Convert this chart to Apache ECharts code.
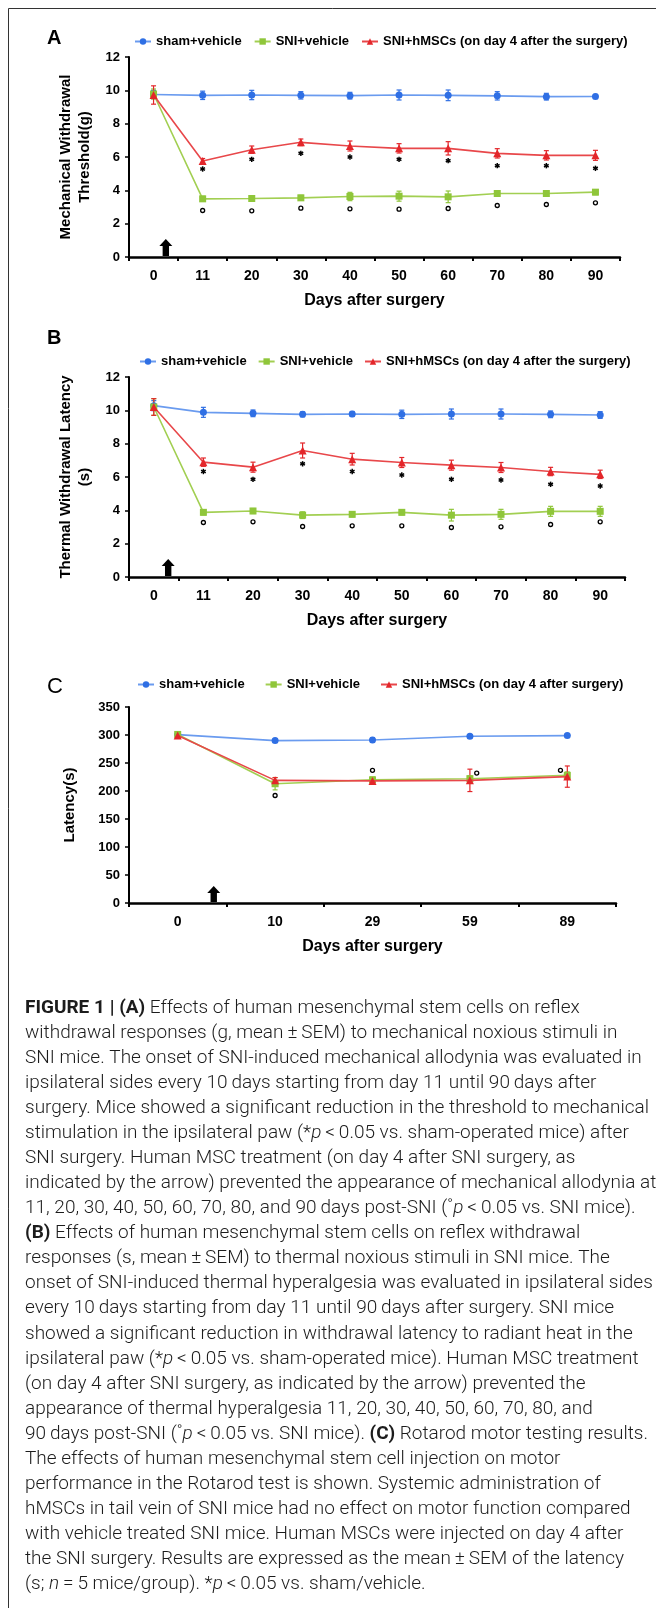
<!DOCTYPE html>
<html><head><meta charset="utf-8">
<script src="https://cdn.jsdelivr.net/npm/echarts@6/dist/echarts.min.js"></script>
<style>html,body{margin:0;padding:0;background:#fff}#c{width:656px;height:1608px}</style>
</head><body><div id="c"></div>
<script>
// ---------- data ----------
const seriesNamesAB = ['sham+vehicle', 'SNI+vehicle', 'SNI+hMSCs (on day 4 after the surgery)'];
const seriesNamesC = ['sham+vehicle', 'SNI+vehicle', 'SNI+hMSCs (on day 4 after surgery)'];
const daysAB = ['0', '11', '20', '30', '40', '50', '60', '70', '80', '90'];
const daysC = ['0', '10', '29', '59', '89'];

// Panel A: mechanical withdrawal threshold (g)
const mechSham = [9.75, 9.7, 9.72, 9.7, 9.68, 9.72, 9.7, 9.67, 9.62, 9.63];
const mechShamErr = [0.25, 0.25, 0.28, 0.22, 0.2, 0.3, 0.32, 0.25, 0.2, 0.12];
const mechSni = [9.78, 3.49, 3.51, 3.55, 3.63, 3.65, 3.61, 3.81, 3.81, 3.89];
const mechSniErr = [0.3, 0.15, 0.12, 0.15, 0.25, 0.3, 0.35, 0.15, 0.15, 0.15];
const mechHm = [9.72, 5.76, 6.44, 6.88, 6.66, 6.52, 6.52, 6.22, 6.1, 6.1];
const mechHmErr = [0.55, 0.15, 0.22, 0.2, 0.3, 0.28, 0.4, 0.28, 0.28, 0.3];
const mechStar = [null, 5.28, 5.86, 6.22, 6.0, 5.86, 5.78, 5.48, 5.48, 5.32];
const mechCirc = [null, 2.79, 2.77, 2.93, 2.89, 2.87, 2.91, 3.09, 3.15, 3.25];

// Panel B: thermal withdrawal latency (s)
const thermSham = [10.28, 9.88, 9.82, 9.76, 9.78, 9.76, 9.78, 9.78, 9.76, 9.72];
const thermShamErr = [0.3, 0.3, 0.2, 0.15, 0.15, 0.25, 0.3, 0.3, 0.2, 0.2];
const thermSni = [10.2, 3.88, 3.96, 3.71, 3.76, 3.88, 3.71, 3.76, 3.94, 3.94];
const thermSniErr = [0.5, 0.15, 0.15, 0.2, 0.15, 0.15, 0.35, 0.3, 0.3, 0.3];
const thermHm = [10.2, 6.89, 6.59, 7.59, 7.07, 6.87, 6.71, 6.57, 6.33, 6.16];
const thermHmErr = [0.5, 0.25, 0.3, 0.45, 0.35, 0.3, 0.3, 0.3, 0.25, 0.25];
const thermStar = [null, 6.33, 5.86, 6.79, 6.33, 6.12, 5.86, 5.82, 5.56, 5.46];
const thermCirc = [null, 3.27, 3.31, 3.03, 3.07, 3.07, 2.97, 3.01, 3.15, 3.31];

// Panel C: rotarod latency (s)
const rotSham = [300.7, 290, 291, 297.7, 298.9];
const rotShamErr = [3, 3, 4, 3, 3];
const rotSni = [301, 213, 220, 222, 228];
const rotSniErr = [3, 11, 5, 5, 6];
const rotHm = [299, 219, 218, 219, 225.7];
const rotHmErr = [3, 5, 5, 20, 19];
const rotCirc = [null, 192, 237, 232, 237];
const rotCircShift = [0, 0, 0, 0.07, -0.07];

const yTicksAB = {min: 0, max: 12, interval: 2};
const yTicksC = {min: 0, max: 350, interval: 50};

const captionLines = [
  '{b|FIGURE 1 | (A)} Effects of human mesenchymal stem cells on reflex',
  'withdrawal responses (g, mean\u2009±\u2009SEM) to mechanical noxious stimuli in',
  'SNI mice. The onset of SNI-induced mechanical allodynia was evaluated in',
  'ipsilateral sides every 10\u2009days starting from day 11 until 90\u2009days after',
  'surgery. Mice showed a significant reduction in the threshold to mechanical',
  'stimulation in the ipsilateral paw (*{i|p}\u2009<\u20090.05 vs. sham-operated mice) after',
  'SNI surgery. Human MSC treatment (on day 4 after SNI surgery, as',
  'indicated by the arrow) prevented the appearance of mechanical allodynia at',
  '11, 20, 30, 40, 50, 60, 70, 80, and 90\u2009days post-SNI (\u02da{i|p}\u2009<\u20090.05 vs. SNI mice).',
  '{b|(B)} Effects of human mesenchymal stem cells on reflex withdrawal',
  'responses (s, mean\u2009±\u2009SEM) to thermal noxious stimuli in SNI mice. The',
  'onset of SNI-induced thermal hyperalgesia was evaluated in ipsilateral sides',
  'every 10\u2009days starting from day 11 until 90\u2009days after surgery. SNI mice',
  'showed a significant reduction in withdrawal latency to radiant heat in the',
  'ipsilateral paw (*{i|p}\u2009<\u20090.05 vs. sham-operated mice). Human MSC treatment',
  '(on day 4 after SNI surgery, as indicated by the arrow) prevented the',
  'appearance of thermal hyperalgesia 11, 20, 30, 40, 50, 60, 70, 80, and',
  '90\u2009days post-SNI (\u02da{i|p}\u2009<\u20090.05 vs. SNI mice). {b|(C)} Rotarod motor testing results.',
  'The effects of human mesenchymal stem cell injection on motor',
  'performance in the Rotarod test is shown. Systemic administration of',
  'hMSCs in tail vein of SNI mice had no effect on motor function compared',
  'with vehicle treated SNI mice. Human MSCs were injected on day 4 after',
  'the SNI surgery. Results are expressed as the mean\u2009±\u2009SEM of the latency',
  '(s; {i|n}\u2009=\u20095 mice/group). *{i|p}\u2009<\u20090.05 vs. sham/vehicle.'
];

// ---------- styling / layout ----------
const FONT = '"Liberation Sans", Arial, sans-serif';
const CAP_FONT = 'Roboto, "Liberation Sans", sans-serif';
const C = {blue: '#2f6fe4', blueLine: '#6a9bef', green: '#8fc63a', greenLine: '#a2cf52', red: '#e3262a', redLine: '#e8474a'};
const grids = [
  {left: 129, top: 57, width: 491, height: 200},
  {left: 129, top: 377, width: 496, height: 200},
  {left: 129, top: 707, width: 487, height: 196}
];

function xAxis(gi, cats) {
  return {type: 'category', gridIndex: gi, data: cats, boundaryGap: true,
    name: 'Days after surgery', nameLocation: 'middle', nameGap: 36,
    nameTextStyle: {fontFamily: FONT, fontWeight: 'bold', fontSize: 16, color: '#000'},
    axisLine: {lineStyle: {color: '#000', width: 2.5}},
    axisTick: {show: true, length: 4, lineStyle: {color: '#000', width: 2}},
    axisLabel: {fontFamily: FONT, fontWeight: 'bold', fontSize: 14, color: '#000', margin: 12},
    splitLine: {show: false}};
}
function yAxis(gi, t, name, gap) {
  return {type: 'value', gridIndex: gi, min: t.min, max: t.max, interval: t.interval,
    name: name, nameLocation: 'middle', nameGap: gap,
    nameTextStyle: {fontFamily: FONT, fontWeight: 'bold', fontSize: 15, color: '#000', lineHeight: 19},
    axisLine: {show: true, lineStyle: {color: '#000', width: 2}},
    axisTick: {show: true, length: 4, lineStyle: {color: '#000', width: 1.5}},
    axisLabel: {fontFamily: FONT, fontWeight: 'bold', fontSize: 13, color: '#000', margin: 9},
    splitLine: {show: false}};
}
function lineS(name, gi, data, color, lineColor, symbol, size, z) {
  return {type: 'line', name: name, xAxisIndex: gi, yAxisIndex: gi, data: data,
    symbol: symbol, symbolSize: size, showSymbol: true, z: z,
    itemStyle: {color: color}, lineStyle: {color: lineColor, width: 1.6},
    emphasis: {disabled: true}, animation: false};
}
function errItem(params, api) {
  const i = api.value(0), v = api.value(1), e = api.value(2);
  const a = api.coord([i, v + e]), b = api.coord([i, v - e]);
  const c = api.visual('color'); const w = 2.5;
  const st = {stroke: c, lineWidth: 1.2};
  return {type: 'group', children: [
    {type: 'line', shape: {x1: a[0], y1: a[1], x2: b[0], y2: b[1]}, style: st},
    {type: 'line', shape: {x1: a[0] - w, y1: a[1], x2: a[0] + w, y2: a[1]}, style: st},
    {type: 'line', shape: {x1: b[0] - w, y1: b[1], x2: b[0] + w, y2: b[1]}, style: st}
  ]};
}
function errS(gi, vals, errs, color, z) {
  return {type: 'custom', xAxisIndex: gi, yAxisIndex: gi, z: z, silent: true, animation: false,
    itemStyle: {color: color}, renderItem: errItem,
    data: vals.map((v, i) => [i, v, errs[i]])};
}
function starItem(params, api) {
  const p = api.coord([api.value(0), api.value(1)]); const r = 2.7;
  const ch = [];
  for (let k = 0; k < 3; k++) {
    const ang = Math.PI / 2 + k * Math.PI / 3;
    const dx = r * Math.cos(ang), dy = r * Math.sin(ang);
    ch.push({type: 'line', shape: {x1: p[0] - dx, y1: p[1] - dy, x2: p[0] + dx, y2: p[1] + dy}, style: {stroke: '#000', lineWidth: 1.5}});
  }
  return {type: 'group', children: ch};
}
function circItem(params, api) {
  const p = api.coord([api.value(0), api.value(1)]);
  const band = api.size([1, 0])[0];
  return {type: 'circle', shape: {cx: p[0] + api.value(2) * band, cy: p[1], r: 2}, style: {fill: '#fff', stroke: '#000', lineWidth: 1.3}};
}
function annS(gi, vals, item, shifts) {
  const d = [];
  vals.forEach((v, i) => { if (v != null) d.push([i, v, shifts ? shifts[i] : 0]); });
  return {type: 'custom', xAxisIndex: gi, yAxisIndex: gi, z: 6, silent: true, animation: false, renderItem: item, data: d};
}
function arrowS(gi, off, h, hw) {
  return {type: 'custom', xAxisIndex: gi, yAxisIndex: gi, z: 7, silent: true, animation: false,
    data: [[0, 0]],
    renderItem: function (params, api) {
      const p = api.coord([api.value(0), api.value(1)]);
      const band = api.size([1, 0])[0];
      const cx = p[0] + off * band, y0 = p[1] - 1;
      const sw = 3.2, hh = 7;
      return {type: 'polygon', shape: {points: [
        [cx, y0 - h], [cx + hw, y0 - h + hh], [cx + sw, y0 - h + hh], [cx + sw, y0],
        [cx - sw, y0], [cx - sw, y0 - h + hh], [cx - hw, y0 - h + hh]]},
        style: {fill: '#000'}};
    }};
}

// caption: scale a regular font horizontally to mimic the condensed original
const ctx = document.createElement('canvas').getContext('2d');
ctx.font = '300 18px Roboto';
const plain = s => s.replace(/\{[a-z]\|([^}]*)\}/g, '$1');
const sx = 624 / ctx.measureText(plain(captionLines[4])).width;
const richBase = {fontFamily: CAP_FONT, fontSize: 18, fill: '#1c1c1c'};
const captionGraphics = captionLines.map((s, i) => ({
  type: 'text', x: 25, y: 1008 + 25.08 * i, scaleX: sx, silent: true,
  style: {text: s, fontFamily: CAP_FONT, fontSize: 18, fontWeight: 300, fill: '#1c1c1c',
    align: 'left', verticalAlign: 'middle', textAlign: 'left', textVerticalAlign: 'middle',
    rich: {
      b: Object.assign({fontWeight: 'bold'}, richBase),
      i: Object.assign({fontStyle: 'italic', fontWeight: 300}, richBase)
    }}
}));

function legend(names, left, top, gap) {
  return {data: names, left: left, top: top, orient: 'horizontal', padding: 0, itemGap: gap,
    itemWidth: 16, itemHeight: 8, itemGap: gap, selectedMode: false,
    textStyle: {fontFamily: FONT, fontWeight: 'bold', fontSize: 13, color: '#000', padding: [0, 0, 0, 0]}};
}

const option = {
  animation: false,
  backgroundColor: '#fff',
  textStyle: {fontFamily: FONT},
  title: [
    {text: 'A', left: 47, top: 28, padding: 0, textStyle: {fontFamily: FONT, fontWeight: 'bold', fontSize: 20, color: '#000'}},
    {text: 'B', left: 47, top: 328, padding: 0, textStyle: {fontFamily: FONT, fontWeight: 'bold', fontSize: 20, color: '#000'}},
    {text: 'C', left: 47, top: 676, padding: 0, textStyle: {fontFamily: FONT, fontWeight: 'normal', fontSize: 22, color: '#000'}}
  ],
  legend: [
    legend(seriesNamesAB, 134, 35, 12),
    legend(seriesNamesAB, 139, 355, 11),
    legend(seriesNamesC, 137, 678, 20)
  ],
  grid: grids,
  xAxis: [xAxis(0, daysAB), xAxis(1, daysAB), xAxis(2, daysC)],
  yAxis: [
    yAxis(0, yTicksAB, 'Mechanical Withdrawal\nThreshold(g)', 30),
    yAxis(1, yTicksAB, 'Thermal Withdrawal Latency\n(s)', 28),
    yAxis(2, yTicksC, 'Latency(s)', 50)
  ],
  graphic: [
    {type: 'polyline', silent: true, shape: {points: [[8.5, 1608], [8.5, 8.5], [656, 8.5]]}, style: {stroke: '#333', lineWidth: 1, fill: null}}
  ].concat(captionGraphics),
  series: [
    // A
    errS(0, mechSham, mechShamErr, C.blue, 3),
    errS(0, mechSni, mechSniErr, C.green, 3),
    errS(0, mechHm, mechHmErr, C.red, 3),
    lineS(seriesNamesAB[0], 0, mechSham, C.blue, C.blueLine, 'circle', 7, 4),
    lineS(seriesNamesAB[1], 0, mechSni, C.green, C.greenLine, 'rect', 7, 4),
    lineS(seriesNamesAB[2], 0, mechHm, C.red, C.redLine, 'triangle', 8, 5),
    annS(0, mechStar, starItem), annS(0, mechCirc, circItem),
    arrowS(0, 0.25, 17, 6.5),
    // B
    errS(1, thermSham, thermShamErr, C.blue, 3),
    errS(1, thermSni, thermSniErr, C.green, 3),
    errS(1, thermHm, thermHmErr, C.red, 3),
    lineS(seriesNamesAB[0], 1, thermSham, C.blue, C.blueLine, 'circle', 7, 4),
    lineS(seriesNamesAB[1], 1, thermSni, C.green, C.greenLine, 'rect', 7, 4),
    lineS(seriesNamesAB[2], 1, thermHm, C.red, C.redLine, 'triangle', 8, 5),
    annS(1, thermStar, starItem), annS(1, thermCirc, circItem),
    arrowS(1, 0.29, 17, 6.5),
    // C
    errS(2, rotSham, rotShamErr, C.blue, 3),
    errS(2, rotSni, rotSniErr, C.green, 3),
    errS(2, rotHm, rotHmErr, C.red, 3),
    lineS(seriesNamesC[0], 2, rotSham, C.blue, C.blueLine, 'circle', 7, 4),
    lineS(seriesNamesC[1], 2, rotSni, C.green, C.greenLine, 'rect', 7, 4),
    lineS(seriesNamesC[2], 2, rotHm, C.red, C.redLine, 'triangle', 8, 5),
    annS(2, rotCirc, circItem, rotCircShift),
    arrowS(2, 0.37, 16, 6.5)
  ]
};
const chart = echarts.init(document.getElementById('c'), null, {renderer: 'canvas'});
chart.setOption(option);
</script>
</body></html>
